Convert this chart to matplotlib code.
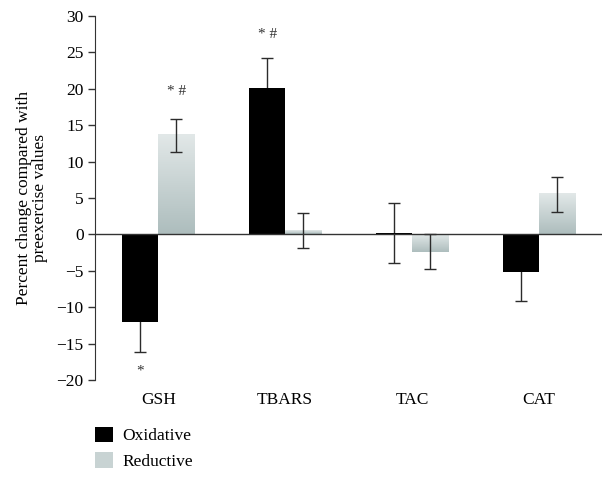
import numpy as np
import matplotlib.pyplot as plt
from matplotlib.patches import Patch
from matplotlib.colors import LinearSegmentedColormap

plt.rcParams['font.family'] = ['Liberation Serif', 'DejaVu Serif']

# Data
categories = ['GSH', 'TBARS', 'TAC', 'CAT']
oxidative = [-12.0, 20.1, 0.2, -5.1]
oxidative_err = [4.1, 4.1, 4.1, 4.1]
reductive = [13.6, 0.5, -2.4, 5.5]
reductive_err = [2.3, 2.4, 2.4, 2.4]
# significance marks: (category index, series offset, y position, text)
marks = [(0, 1, 19.6, '* #'), (1, 0, 27.4, '* #'), (0, 0, -18.8, '*')]

fig = plt.figure(figsize=(6.12, 4.78), dpi=100)
ax = fig.add_axes([0.155, 0.205, 0.829, 0.7615])

x = np.arange(len(categories))
w = 0.284

# Oxidative bars (solid black); error bars behind so the inner half is hidden
ax.bar(x - w / 2, oxidative, w, color='black', zorder=2)
ax.errorbar(x - w / 2, oxidative, yerr=oxidative_err, fmt='none',
            ecolor='#2b2b2b', elinewidth=1, capsize=4, capthick=1, zorder=1.5)

# Reductive bars with vertical gradient
cmap = LinearSegmentedColormap.from_list('grad', ['#adbdbd', '#e2e8e8'])
grad = np.linspace(0, 1, 256).reshape(-1, 1)
for xi, v in zip(x, reductive):
    lo, hi = min(0, v), max(0, v)
    ax.imshow(grad, cmap=cmap, aspect='auto', origin='lower',
              extent=[xi, xi + w, lo, hi], zorder=2)
ax.errorbar(x + w / 2, reductive, yerr=reductive_err, fmt='none',
            ecolor='#2b2b2b', elinewidth=1, capsize=4, capthick=1, zorder=3)

for ci, off, yy, txt in marks:
    xx = x[ci] - w / 2 if off == 0 else x[ci] + w / 2
    ax.text(xx, yy, txt, ha='center', va='center', fontsize=11, color='#333333')

ax.axhline(0, color='#333333', lw=1, zorder=4)

ax.set_xlim(-0.5, 3.5)
ax.set_ylim(-20, 30)
ax.set_yticks(np.arange(-20, 31, 5))
ax.set_yticklabels([str(t).replace('-', '\u2212') for t in range(-20, 31, 5)])
ax.tick_params(axis='y', labelsize=12.5, length=5, width=1, color='#333333',
               pad=3)
ax.set_xticks([])
for s in ['top', 'right', 'bottom']:
    ax.spines[s].set_visible(False)
ax.spines['left'].set_color('#333333')
ax.set_ylabel('Percent change compared with\npreexercise values', fontsize=12.5,
              linespacing=1.0, labelpad=6)

for xi, c in zip(x, categories):
    ax.text(xi, -22.8, c, ha='center', va='center', fontsize=12.5)

handles = [Patch(facecolor='black', edgecolor='none'),
           Patch(facecolor='#c8d3d3', edgecolor='none')]
fig.legend(handles, ['Oxidative', 'Reductive'], loc='upper left',
           bbox_to_anchor=(0.13, 0.14), frameon=False, fontsize=12.5,
           handlelength=1.0, handleheight=1.0, handletextpad=0.55,
           labelspacing=0.45)

fig.savefig('out.png', dpi=100)
